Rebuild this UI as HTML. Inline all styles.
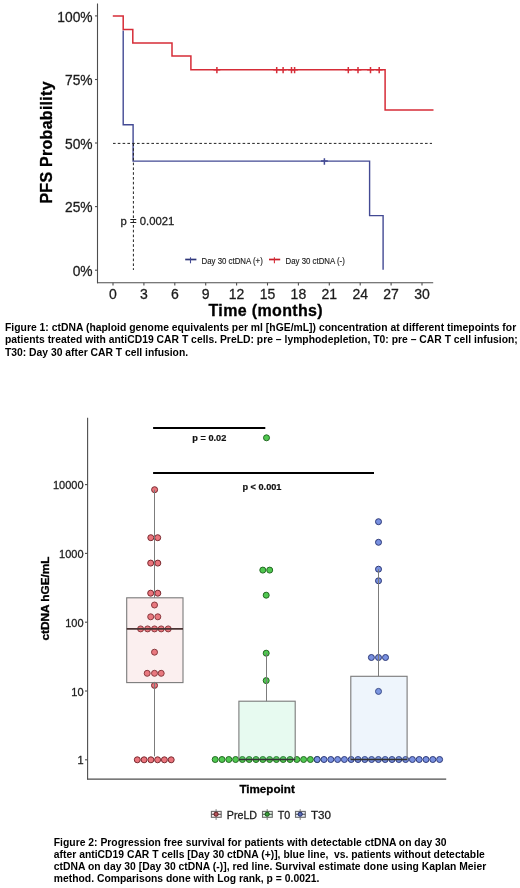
<!DOCTYPE html>
<html><head><meta charset="utf-8"><style>
html,body{margin:0;padding:0;background:#fff;}
svg{display:block;font-family:"Liberation Sans", sans-serif;will-change:transform;}
svg text{stroke:#222;stroke-width:0.28px;}
svg text[font-weight="bold"]{stroke:none;}
</style></head><body>
<svg width="520" height="888" viewBox="0 0 520 888">
<rect width="520" height="888" fill="#fff"/>
<line x1="97.5" y1="3.5" x2="97.5" y2="283.3" stroke="#4d4d4d" stroke-width="1.1"/>
<line x1="97" y1="282.8" x2="433.2" y2="282.8" stroke="#4d4d4d" stroke-width="1.1"/>
<line x1="95" y1="15.9" x2="97.5" y2="15.9" stroke="#4d4d4d" stroke-width="1.1"/>
<text x="92.6" y="21.6" text-anchor="end" font-size="13.8" fill="#1a1a1a">100%</text>
<line x1="95" y1="79.5" x2="97.5" y2="79.5" stroke="#4d4d4d" stroke-width="1.1"/>
<text x="92.6" y="85.2" text-anchor="end" font-size="13.8" fill="#1a1a1a">75%</text>
<line x1="95" y1="143.0" x2="97.5" y2="143.0" stroke="#4d4d4d" stroke-width="1.1"/>
<text x="92.6" y="148.7" text-anchor="end" font-size="13.8" fill="#1a1a1a">50%</text>
<line x1="95" y1="206.6" x2="97.5" y2="206.6" stroke="#4d4d4d" stroke-width="1.1"/>
<text x="92.6" y="212.3" text-anchor="end" font-size="13.8" fill="#1a1a1a">25%</text>
<line x1="95" y1="270.2" x2="97.5" y2="270.2" stroke="#4d4d4d" stroke-width="1.1"/>
<text x="92.6" y="275.9" text-anchor="end" font-size="13.8" fill="#1a1a1a">0%</text>
<line x1="113.0" y1="282.8" x2="113.0" y2="285.5" stroke="#4d4d4d" stroke-width="1.1"/>
<text x="113.0" y="298.6" text-anchor="middle" font-size="14" fill="#1a1a1a">0</text>
<line x1="143.9" y1="282.8" x2="143.9" y2="285.5" stroke="#4d4d4d" stroke-width="1.1"/>
<text x="143.9" y="298.6" text-anchor="middle" font-size="14" fill="#1a1a1a">3</text>
<line x1="174.8" y1="282.8" x2="174.8" y2="285.5" stroke="#4d4d4d" stroke-width="1.1"/>
<text x="174.8" y="298.6" text-anchor="middle" font-size="14" fill="#1a1a1a">6</text>
<line x1="205.7" y1="282.8" x2="205.7" y2="285.5" stroke="#4d4d4d" stroke-width="1.1"/>
<text x="205.7" y="298.6" text-anchor="middle" font-size="14" fill="#1a1a1a">9</text>
<line x1="236.6" y1="282.8" x2="236.6" y2="285.5" stroke="#4d4d4d" stroke-width="1.1"/>
<text x="236.6" y="298.6" text-anchor="middle" font-size="14" fill="#1a1a1a">12</text>
<line x1="267.5" y1="282.8" x2="267.5" y2="285.5" stroke="#4d4d4d" stroke-width="1.1"/>
<text x="267.5" y="298.6" text-anchor="middle" font-size="14" fill="#1a1a1a">15</text>
<line x1="298.4" y1="282.8" x2="298.4" y2="285.5" stroke="#4d4d4d" stroke-width="1.1"/>
<text x="298.4" y="298.6" text-anchor="middle" font-size="14" fill="#1a1a1a">18</text>
<line x1="329.3" y1="282.8" x2="329.3" y2="285.5" stroke="#4d4d4d" stroke-width="1.1"/>
<text x="329.3" y="298.6" text-anchor="middle" font-size="14" fill="#1a1a1a">21</text>
<line x1="360.2" y1="282.8" x2="360.2" y2="285.5" stroke="#4d4d4d" stroke-width="1.1"/>
<text x="360.2" y="298.6" text-anchor="middle" font-size="14" fill="#1a1a1a">24</text>
<line x1="391.1" y1="282.8" x2="391.1" y2="285.5" stroke="#4d4d4d" stroke-width="1.1"/>
<text x="391.1" y="298.6" text-anchor="middle" font-size="14" fill="#1a1a1a">27</text>
<line x1="422.0" y1="282.8" x2="422.0" y2="285.5" stroke="#4d4d4d" stroke-width="1.1"/>
<text x="422.0" y="298.6" text-anchor="middle" font-size="14" fill="#1a1a1a">30</text>
<text style="stroke:#000;stroke-width:0.3px" x="208.5" y="315.6" font-size="16" font-weight="bold" fill="#000" textLength="114.2" lengthAdjust="spacing">Time (months)</text>
<text style="stroke:#000;stroke-width:0.3px" transform="translate(51.5,203.6) rotate(-90)" font-size="16" font-weight="bold" fill="#000" textLength="122.2" lengthAdjust="spacing">PFS Probability</text>
<polyline fill="none" stroke="#434a94" stroke-width="1.4" points="123.2,30.5 123.2,124.7 133.1,124.7 133.1,161.1 369.6,161.1 369.6,215.6 383.1,215.6 383.1,269.8"/>
<polyline fill="none" stroke="#d62c37" stroke-width="1.5" points="112.8,16.1 123.2,16.1 123.2,29.5 132.8,29.5 132.8,42.9 172.0,42.9 172.0,56.0 190.9,56.0 190.9,69.7 385.1,69.7 385.1,109.9 433.5,109.9"/>
<line x1="113" y1="143.4" x2="432" y2="143.4" stroke="#222" stroke-width="1" stroke-dasharray="2.6,2.2"/>
<line x1="133.4" y1="143.4" x2="133.4" y2="270" stroke="#222" stroke-width="1" stroke-dasharray="2.6,2.2"/>
<path d="M213.5,69.7h6.8M216.9,66.9v6.4" stroke="#d62c37" stroke-width="1.5" fill="none"/>
<path d="M273.3,69.7h6.8M276.7,66.9v6.4" stroke="#d62c37" stroke-width="1.5" fill="none"/>
<path d="M279.7,69.7h6.8M283.1,66.9v6.4" stroke="#d62c37" stroke-width="1.5" fill="none"/>
<path d="M288.1,69.7h6.8M291.5,66.9v6.4" stroke="#d62c37" stroke-width="1.5" fill="none"/>
<path d="M291.2,69.7h6.8M294.6,66.9v6.4" stroke="#d62c37" stroke-width="1.5" fill="none"/>
<path d="M344.9,69.7h6.8M348.3,66.9v6.4" stroke="#d62c37" stroke-width="1.5" fill="none"/>
<path d="M354.6,69.7h6.8M358.0,66.9v6.4" stroke="#d62c37" stroke-width="1.5" fill="none"/>
<path d="M367.1,69.7h6.8M370.5,66.9v6.4" stroke="#d62c37" stroke-width="1.5" fill="none"/>
<path d="M375.8,69.7h6.8M379.2,66.9v6.4" stroke="#d62c37" stroke-width="1.5" fill="none"/>
<path d="M321.0,161.1h6.8M324.4,158.3v6.4" stroke="#434a94" stroke-width="1.5" fill="none"/>
<path d="M185.2,259.5h11.2" stroke="#2e3678" stroke-width="1.7"/><path d="M190.5,257.3v6" stroke="#434a94" stroke-width="1.1"/>
<text x="201.5" y="263.5" font-size="9" fill="#222" style="stroke-width:0.15px" textLength="61.3" lengthAdjust="spacingAndGlyphs">Day 30 ctDNA (+)</text>
<path d="M269,259.5h11.2" stroke="#c81e28" stroke-width="1.7"/><path d="M274.4,257.3v6" stroke="#d62c37" stroke-width="1.1"/>
<text x="285.6" y="263.5" font-size="9" fill="#222" style="stroke-width:0.15px" textLength="59.2" lengthAdjust="spacingAndGlyphs">Day 30 ctDNA (-)</text>
<text x="120.6" y="225.2" font-size="11.3" fill="#222">p = 0.0021</text>
<text x="5" y="331.2" font-size="10.34" font-weight="bold" fill="#000" textLength="511.2" lengthAdjust="spacing">Figure 1: ctDNA (haploid genome equivalents per ml [hGE/mL]) concentration at different timepoints for</text>
<text x="5" y="343.4" font-size="10.34" font-weight="bold" fill="#000" textLength="512.8" lengthAdjust="spacing">patients treated with antiCD19 CAR T cells. PreLD: pre – lymphodepletion, T0: pre – CAR T cell infusion;</text>
<text x="5" y="356.1" font-size="10.34" font-weight="bold" fill="#000">T30: Day 30 after CAR T cell infusion.</text>
<line x1="87.6" y1="417.8" x2="87.6" y2="779.6" stroke="#4d4d4d" stroke-width="1.1"/>
<line x1="87.1" y1="779.1" x2="446.2" y2="779.1" stroke="#4d4d4d" stroke-width="1.1"/>
<line x1="85" y1="759.8" x2="87.6" y2="759.8" stroke="#4d4d4d" stroke-width="1.1"/>
<text x="83.6" y="764.4" text-anchor="end" font-size="11" fill="#1a1a1a">1</text>
<line x1="85" y1="691.0" x2="87.6" y2="691.0" stroke="#4d4d4d" stroke-width="1.1"/>
<text x="83.6" y="695.6" text-anchor="end" font-size="11" fill="#1a1a1a">10</text>
<line x1="85" y1="622.2" x2="87.6" y2="622.2" stroke="#4d4d4d" stroke-width="1.1"/>
<text x="83.6" y="626.8" text-anchor="end" font-size="11" fill="#1a1a1a">100</text>
<line x1="85" y1="553.4" x2="87.6" y2="553.4" stroke="#4d4d4d" stroke-width="1.1"/>
<text x="83.6" y="558.0" text-anchor="end" font-size="11" fill="#1a1a1a">1000</text>
<line x1="85" y1="484.6" x2="87.6" y2="484.6" stroke="#4d4d4d" stroke-width="1.1"/>
<text x="83.6" y="489.2" text-anchor="end" font-size="11" fill="#1a1a1a">10000</text>
<text style="stroke:#000;stroke-width:0.3px" transform="translate(48.6,640.5) rotate(-90)" font-size="10.2" font-weight="bold" fill="#000" textLength="84" lengthAdjust="spacingAndGlyphs">ctDNA hGE/mL</text>
<text style="stroke:#000;stroke-width:0.3px" x="239.4" y="792.7" font-size="11.5" font-weight="bold" fill="#000" textLength="55.4" lengthAdjust="spacingAndGlyphs">Timepoint</text>
<line x1="153.1" y1="428.1" x2="265.3" y2="428.1" stroke="#000" stroke-width="2"/>
<line x1="153.1" y1="472.9" x2="374" y2="472.9" stroke="#000" stroke-width="2"/>
<text style="stroke:#111;stroke-width:0.2px" x="192.3" y="441.1" font-size="9.2" font-weight="bold" fill="#111">p = 0.02</text>
<text style="stroke:#111;stroke-width:0.2px" x="242.4" y="489.5" font-size="9.2" font-weight="bold" fill="#111">p &lt; 0.001</text>
<circle cx="154.6" cy="489.7" r="3.0" fill="#ea747c" stroke="#7a2a30" stroke-width="1.0"/>
<circle cx="150.8" cy="537.7" r="3.0" fill="#ea747c" stroke="#7a2a30" stroke-width="1.0"/>
<circle cx="157.7" cy="537.7" r="3.0" fill="#ea747c" stroke="#7a2a30" stroke-width="1.0"/>
<circle cx="150.7" cy="563.1" r="3.0" fill="#ea747c" stroke="#7a2a30" stroke-width="1.0"/>
<circle cx="157.8" cy="563.1" r="3.0" fill="#ea747c" stroke="#7a2a30" stroke-width="1.0"/>
<circle cx="150.7" cy="593.2" r="3.0" fill="#ea747c" stroke="#7a2a30" stroke-width="1.0"/>
<circle cx="157.8" cy="593.2" r="3.0" fill="#ea747c" stroke="#7a2a30" stroke-width="1.0"/>
<circle cx="154.5" cy="605.0" r="3.0" fill="#ea747c" stroke="#7a2a30" stroke-width="1.0"/>
<circle cx="150.7" cy="616.8" r="3.0" fill="#ea747c" stroke="#7a2a30" stroke-width="1.0"/>
<circle cx="157.8" cy="616.8" r="3.0" fill="#ea747c" stroke="#7a2a30" stroke-width="1.0"/>
<circle cx="140.6" cy="628.9" r="3.0" fill="#ea747c" stroke="#7a2a30" stroke-width="1.0"/>
<circle cx="147.6" cy="628.9" r="3.0" fill="#ea747c" stroke="#7a2a30" stroke-width="1.0"/>
<circle cx="154.5" cy="628.9" r="3.0" fill="#ea747c" stroke="#7a2a30" stroke-width="1.0"/>
<circle cx="161.2" cy="628.9" r="3.0" fill="#ea747c" stroke="#7a2a30" stroke-width="1.0"/>
<circle cx="168.2" cy="628.9" r="3.0" fill="#ea747c" stroke="#7a2a30" stroke-width="1.0"/>
<circle cx="154.5" cy="652.2" r="3.0" fill="#ea747c" stroke="#7a2a30" stroke-width="1.0"/>
<circle cx="147.2" cy="673.3" r="3.0" fill="#ea747c" stroke="#7a2a30" stroke-width="1.0"/>
<circle cx="154.5" cy="673.3" r="3.0" fill="#ea747c" stroke="#7a2a30" stroke-width="1.0"/>
<circle cx="161.2" cy="673.3" r="3.0" fill="#ea747c" stroke="#7a2a30" stroke-width="1.0"/>
<circle cx="154.5" cy="685.4" r="3.0" fill="#ea747c" stroke="#7a2a30" stroke-width="1.0"/>
<circle cx="137.3" cy="759.8" r="3.0" fill="#ea747c" stroke="#7a2a30" stroke-width="1.0"/>
<circle cx="144.1" cy="759.8" r="3.0" fill="#ea747c" stroke="#7a2a30" stroke-width="1.0"/>
<circle cx="150.9" cy="759.8" r="3.0" fill="#ea747c" stroke="#7a2a30" stroke-width="1.0"/>
<circle cx="157.6" cy="759.8" r="3.0" fill="#ea747c" stroke="#7a2a30" stroke-width="1.0"/>
<circle cx="164.4" cy="759.8" r="3.0" fill="#ea747c" stroke="#7a2a30" stroke-width="1.0"/>
<circle cx="171.2" cy="759.8" r="3.0" fill="#ea747c" stroke="#7a2a30" stroke-width="1.0"/>
<circle cx="266.5" cy="437.8" r="3.0" fill="#50c850" stroke="#236a23" stroke-width="1.0"/>
<circle cx="262.8" cy="570.1" r="3.0" fill="#50c850" stroke="#236a23" stroke-width="1.0"/>
<circle cx="269.7" cy="570.1" r="3.0" fill="#50c850" stroke="#236a23" stroke-width="1.0"/>
<circle cx="266.2" cy="595.2" r="3.0" fill="#50c850" stroke="#236a23" stroke-width="1.0"/>
<circle cx="266.2" cy="653.2" r="3.0" fill="#50c850" stroke="#236a23" stroke-width="1.0"/>
<circle cx="266.2" cy="680.6" r="3.0" fill="#50c850" stroke="#236a23" stroke-width="1.0"/>
<circle cx="215.2" cy="759.5" r="3.0" fill="#50c850" stroke="#236a23" stroke-width="1.0"/>
<circle cx="222.0" cy="759.5" r="3.0" fill="#50c850" stroke="#236a23" stroke-width="1.0"/>
<circle cx="228.8" cy="759.5" r="3.0" fill="#50c850" stroke="#236a23" stroke-width="1.0"/>
<circle cx="235.6" cy="759.5" r="3.0" fill="#50c850" stroke="#236a23" stroke-width="1.0"/>
<circle cx="242.4" cy="759.5" r="3.0" fill="#50c850" stroke="#236a23" stroke-width="1.0"/>
<circle cx="249.2" cy="759.5" r="3.0" fill="#50c850" stroke="#236a23" stroke-width="1.0"/>
<circle cx="256.0" cy="759.5" r="3.0" fill="#50c850" stroke="#236a23" stroke-width="1.0"/>
<circle cx="262.8" cy="759.5" r="3.0" fill="#50c850" stroke="#236a23" stroke-width="1.0"/>
<circle cx="269.6" cy="759.5" r="3.0" fill="#50c850" stroke="#236a23" stroke-width="1.0"/>
<circle cx="276.4" cy="759.5" r="3.0" fill="#50c850" stroke="#236a23" stroke-width="1.0"/>
<circle cx="283.2" cy="759.5" r="3.0" fill="#50c850" stroke="#236a23" stroke-width="1.0"/>
<circle cx="290.0" cy="759.5" r="3.0" fill="#50c850" stroke="#236a23" stroke-width="1.0"/>
<circle cx="296.8" cy="759.5" r="3.0" fill="#50c850" stroke="#236a23" stroke-width="1.0"/>
<circle cx="303.6" cy="759.5" r="3.0" fill="#50c850" stroke="#236a23" stroke-width="1.0"/>
<circle cx="310.4" cy="759.5" r="3.0" fill="#50c850" stroke="#236a23" stroke-width="1.0"/>
<circle cx="317.2" cy="759.5" r="3.0" fill="#50c850" stroke="#236a23" stroke-width="1.0"/>
<circle cx="378.5" cy="521.7" r="3.0" fill="#7890e0" stroke="#2e3a78" stroke-width="1.0"/>
<circle cx="378.5" cy="542.3" r="3.0" fill="#7890e0" stroke="#2e3a78" stroke-width="1.0"/>
<circle cx="378.5" cy="569.2" r="3.0" fill="#7890e0" stroke="#2e3a78" stroke-width="1.0"/>
<circle cx="378.5" cy="580.8" r="3.0" fill="#7890e0" stroke="#2e3a78" stroke-width="1.0"/>
<circle cx="371.4" cy="657.5" r="3.0" fill="#7890e0" stroke="#2e3a78" stroke-width="1.0"/>
<circle cx="378.5" cy="657.5" r="3.0" fill="#7890e0" stroke="#2e3a78" stroke-width="1.0"/>
<circle cx="385.5" cy="657.5" r="3.0" fill="#7890e0" stroke="#2e3a78" stroke-width="1.0"/>
<circle cx="378.5" cy="691.4" r="3.0" fill="#7890e0" stroke="#2e3a78" stroke-width="1.0"/>
<circle cx="317.2" cy="759.5" r="3.0" fill="#7890e0" stroke="#2e3a78" stroke-width="1.0"/>
<circle cx="324.0" cy="759.5" r="3.0" fill="#7890e0" stroke="#2e3a78" stroke-width="1.0"/>
<circle cx="330.8" cy="759.5" r="3.0" fill="#7890e0" stroke="#2e3a78" stroke-width="1.0"/>
<circle cx="337.6" cy="759.5" r="3.0" fill="#7890e0" stroke="#2e3a78" stroke-width="1.0"/>
<circle cx="344.4" cy="759.5" r="3.0" fill="#7890e0" stroke="#2e3a78" stroke-width="1.0"/>
<circle cx="351.2" cy="759.5" r="3.0" fill="#7890e0" stroke="#2e3a78" stroke-width="1.0"/>
<circle cx="358.0" cy="759.5" r="3.0" fill="#7890e0" stroke="#2e3a78" stroke-width="1.0"/>
<circle cx="364.8" cy="759.5" r="3.0" fill="#7890e0" stroke="#2e3a78" stroke-width="1.0"/>
<circle cx="371.6" cy="759.5" r="3.0" fill="#7890e0" stroke="#2e3a78" stroke-width="1.0"/>
<circle cx="378.4" cy="759.5" r="3.0" fill="#7890e0" stroke="#2e3a78" stroke-width="1.0"/>
<circle cx="385.2" cy="759.5" r="3.0" fill="#7890e0" stroke="#2e3a78" stroke-width="1.0"/>
<circle cx="392.0" cy="759.5" r="3.0" fill="#7890e0" stroke="#2e3a78" stroke-width="1.0"/>
<circle cx="398.8" cy="759.5" r="3.0" fill="#7890e0" stroke="#2e3a78" stroke-width="1.0"/>
<circle cx="405.6" cy="759.5" r="3.0" fill="#7890e0" stroke="#2e3a78" stroke-width="1.0"/>
<circle cx="412.4" cy="759.5" r="3.0" fill="#7890e0" stroke="#2e3a78" stroke-width="1.0"/>
<circle cx="419.2" cy="759.5" r="3.0" fill="#7890e0" stroke="#2e3a78" stroke-width="1.0"/>
<circle cx="426.0" cy="759.5" r="3.0" fill="#7890e0" stroke="#2e3a78" stroke-width="1.0"/>
<circle cx="432.8" cy="759.5" r="3.0" fill="#7890e0" stroke="#2e3a78" stroke-width="1.0"/>
<circle cx="439.6" cy="759.5" r="3.0" fill="#7890e0" stroke="#2e3a78" stroke-width="1.0"/>
<line x1="154.5" y1="489.7" x2="154.5" y2="597.8" stroke="#7c7c7c" stroke-width="1"/>
<line x1="154.5" y1="682.6" x2="154.5" y2="756.3" stroke="#7c7c7c" stroke-width="1"/>
<rect x="126.7" y="597.8" width="56.3" height="84.8" fill="rgba(225,150,145,0.15)" stroke="#7a7a7a" stroke-width="1.1"/>
<line x1="126.7" y1="628.8" x2="183.0" y2="628.8" stroke="#4a3434" stroke-width="1.7"/>
<line x1="266.5" y1="653.2" x2="266.5" y2="701.2" stroke="#7c7c7c" stroke-width="1"/>
<line x1="266.5" y1="759.5" x2="266.5" y2="759.5" stroke="#7c7c7c" stroke-width="1"/>
<rect x="238.9" y="701.2" width="56.3" height="58.3" fill="rgba(120,225,170,0.18)" stroke="#7a7a7a" stroke-width="1.1"/>
<line x1="238.9" y1="759.5" x2="295.2" y2="759.5" stroke="#333" stroke-width="1.3"/>
<line x1="378.5" y1="569.2" x2="378.5" y2="676.3" stroke="#7c7c7c" stroke-width="1"/>
<line x1="378.5" y1="759.5" x2="378.5" y2="759.5" stroke="#7c7c7c" stroke-width="1"/>
<rect x="350.8" y="676.3" width="56.3" height="83.2" fill="rgba(140,185,235,0.15)" stroke="#7a7a7a" stroke-width="1.1"/>
<line x1="350.8" y1="759.5" x2="407.1" y2="759.5" stroke="#333" stroke-width="1.3"/>
<rect x="211.4" y="811.4" width="9.8" height="5.9" fill="#fbeeee" stroke="#6a6a6a" stroke-width="1.1"/>
<line x1="211.4" y1="814.3" x2="221.2" y2="814.3" stroke="#555" stroke-width="1.1"/>
<line x1="216.1" y1="809.2" x2="216.1" y2="811.4" stroke="#777" stroke-width="1"/>
<line x1="216.1" y1="817.3" x2="216.1" y2="819.9" stroke="#777" stroke-width="1"/>
<circle cx="216.1" cy="814.2" r="2.1" fill="#b8545a" stroke="#5a1a1e" stroke-width="1"/>
<text x="226.8" y="819" font-size="10.7" fill="#1a1a1a">PreLD</text>
<rect x="262.5" y="811.4" width="9.8" height="5.9" fill="#e4f8e8" stroke="#6a6a6a" stroke-width="1.1"/>
<line x1="262.5" y1="814.3" x2="272.3" y2="814.3" stroke="#555" stroke-width="1.1"/>
<line x1="267.2" y1="809.2" x2="267.2" y2="811.4" stroke="#777" stroke-width="1"/>
<line x1="267.2" y1="817.3" x2="267.2" y2="819.9" stroke="#777" stroke-width="1"/>
<circle cx="267.2" cy="814.2" r="2.1" fill="#3ea03e" stroke="#145214" stroke-width="1"/>
<text x="277.7" y="819" font-size="10.7" fill="#1a1a1a">T0</text>
<rect x="295.5" y="811.4" width="9.8" height="5.9" fill="#e8eefa" stroke="#6a6a6a" stroke-width="1.1"/>
<line x1="295.5" y1="814.3" x2="305.3" y2="814.3" stroke="#555" stroke-width="1.1"/>
<line x1="300.2" y1="809.2" x2="300.2" y2="811.4" stroke="#777" stroke-width="1"/>
<line x1="300.2" y1="817.3" x2="300.2" y2="819.9" stroke="#777" stroke-width="1"/>
<circle cx="300.2" cy="814.2" r="2.1" fill="#5a6cb8" stroke="#1e2860" stroke-width="1"/>
<text x="311" y="819" font-size="10.7" fill="#1a1a1a" textLength="20" lengthAdjust="spacingAndGlyphs">T30</text>
<text x="53.8" y="845.50" font-size="10.34" font-weight="bold" fill="#000" xml:space="preserve" textLength="392.8" lengthAdjust="spacing">Figure 2: Progression free survival for patients with detectable ctDNA on day 30</text>
<text x="53.8" y="857.80" font-size="10.34" font-weight="bold" fill="#000" xml:space="preserve" textLength="431.0" lengthAdjust="spacing">after antiCD19 CAR T cells [Day 30 ctDNA (+)], blue line,  vs. patients without detectable</text>
<text x="53.8" y="870.10" font-size="10.34" font-weight="bold" fill="#000" xml:space="preserve" textLength="432.5" lengthAdjust="spacing">ctDNA on day 30 [Day 30 ctDNA (-)], red line. Survival estimate done using Kaplan Meier</text>
<text x="53.8" y="882.40" font-size="10.34" font-weight="bold" fill="#000" xml:space="preserve" textLength="265.5" lengthAdjust="spacing">method. Comparisons done with Log rank, p = 0.0021.</text>
</svg>
</body></html>
